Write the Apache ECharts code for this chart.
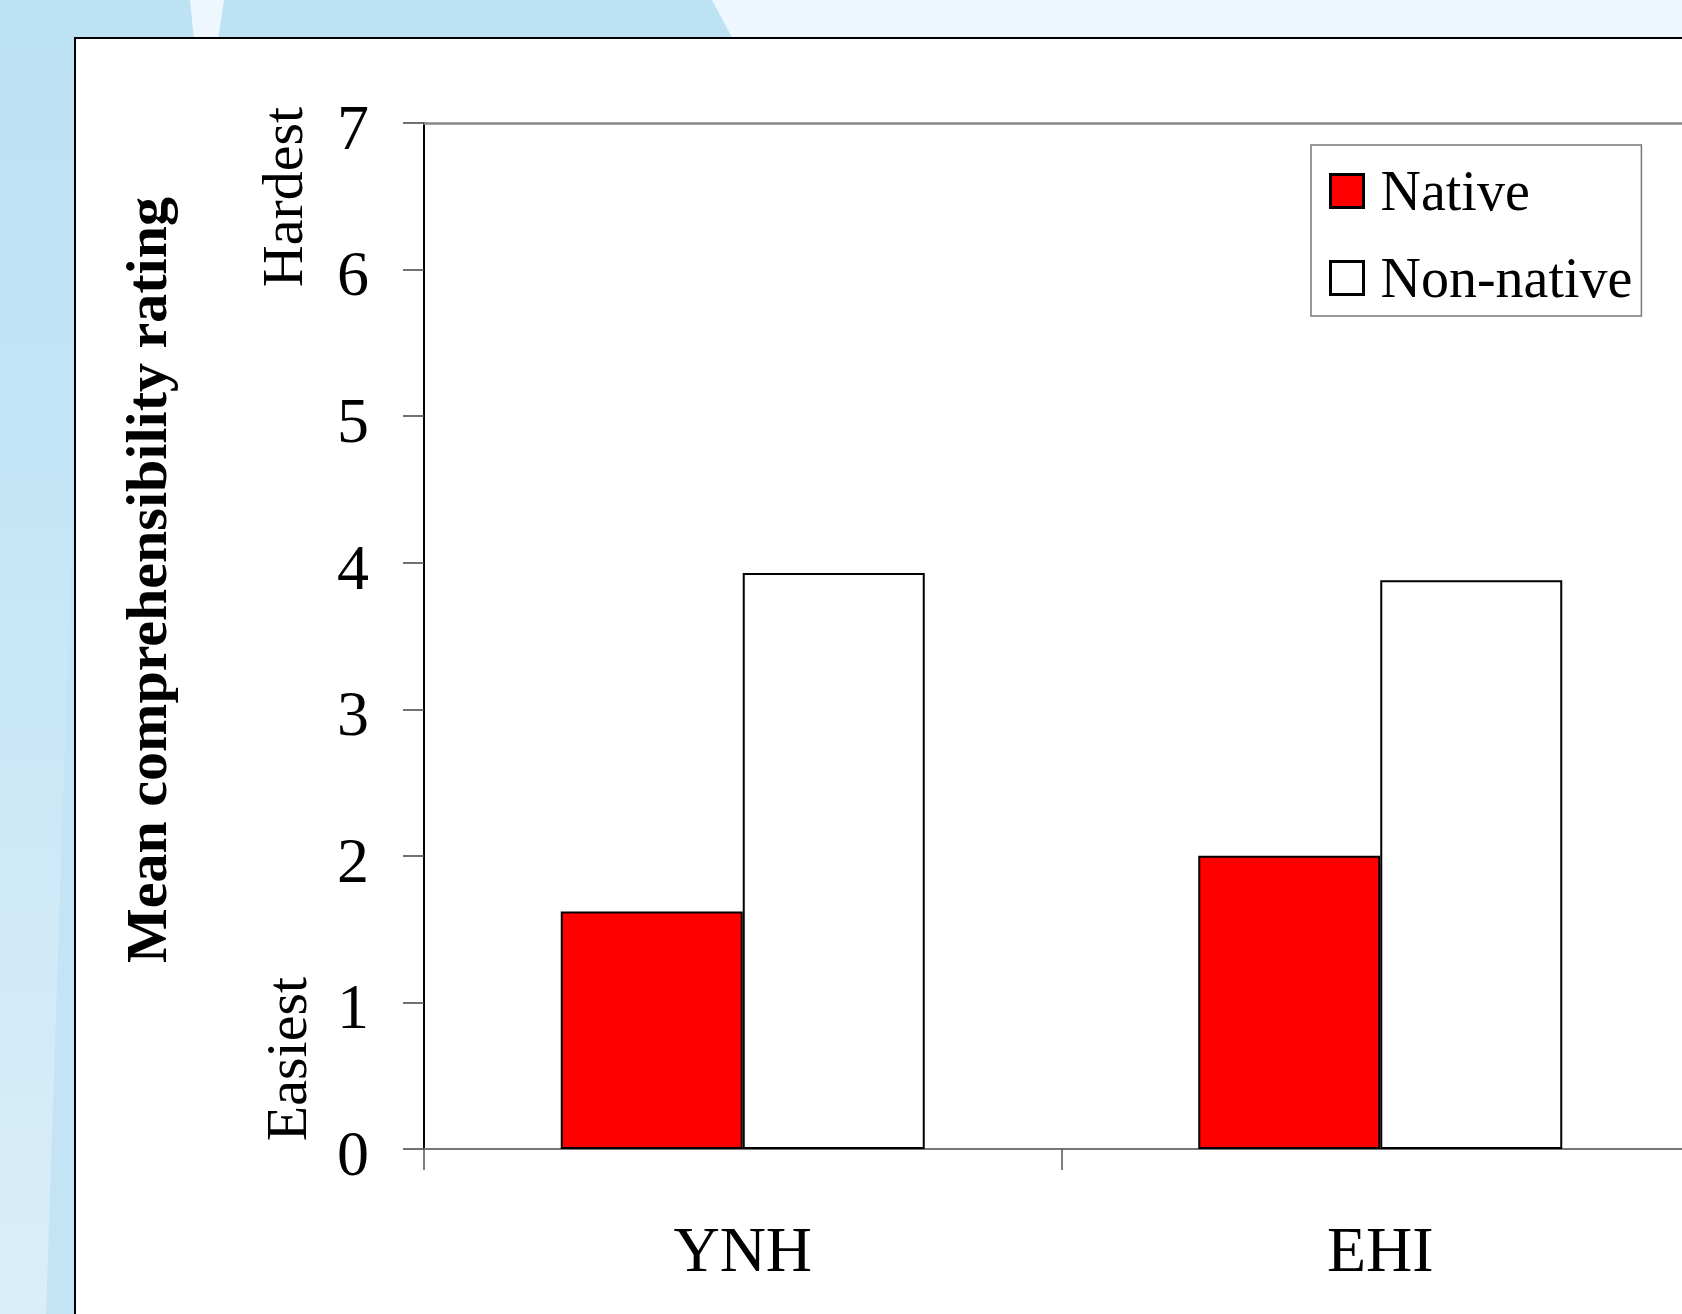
<!DOCTYPE html>
<html>
<head>
<meta charset="utf-8">
<title>Mean comprehensibility rating</title>
<script src="https://cdn.jsdelivr.net/npm/echarts@6/dist/echarts.min.js"></script>
<style>
  html, body { margin: 0; padding: 0; background: #bee3f5; overflow: hidden; }
  /* the plot runs past the right edge of the slide, so the canvas is a bit wider than the window */
  #main { width: 1720px; height: 1314px; }
</style>
</head>
<body>
<div id="main"></div>
<script>
// data
var categories = ['YNH', 'EHI'];
var seriesNames = ['Native', 'Non-native'];
var nativeValues = [1.62, 2.0];
var nonNativeValues = [3.93, 3.88];
var yTicks = [0, 1, 2, 3, 4, 5, 6, 7];

var serif = "'Liberation Serif', 'Times New Roman', serif";

var myChart = echarts.init(document.getElementById('main'));

var option = {
  animation: false,
  backgroundColor: {
    type: 'linear', x: 0, y: 0, x2: 0, y2: 1,
    colorStops: [
      {offset: 0, color: '#bde2f4'},
      {offset: 0.3, color: '#c2e4f6'},
      {offset: 1, color: '#daeef9'}
    ]
  },
  graphic: [
    // backdrop shapes of the slide
    {type: 'polygon', z: -100, shape: {points: [[190, 0], [224, 0], [212, 80], [198, 80]]}, style: {fill: '#eef7fd'}},
    {type: 'polygon', z: -100, shape: {points: [[712, 0], [1720, 0], [1720, 60], [744, 60]]}, style: {fill: '#eef7fd'}},
    {type: 'rect', z: -101, shape: {x: 0, y: 0, width: 1720, height: 40}, style: {fill: '#bde2f4'}},
    {type: 'polygon', z: -100, shape: {points: [[75, 440], [75, 1314], [46, 1314]]}, style: {fill: '#c4e4f6'}},
    {type: 'rect', z: -99, shape: {x: 75, y: 38, width: 1700, height: 1400},
      style: {fill: '#ffffff', stroke: '#000000', lineWidth: 2}},
    // axis titles
    {type: 'text', z: 10, x: 151, y: 580, rotation: Math.PI / 2,
      style: {text: 'Mean comprehensibility rating', font: 'bold 58px ' + serif, fill: '#000',
        textAlign: 'center', textVerticalAlign: 'middle'}},
    {type: 'text', z: 10, x: 287, y: 197, rotation: Math.PI / 2,
      style: {text: 'Hardest', font: '58px ' + serif, fill: '#000',
        textAlign: 'center', textVerticalAlign: 'middle'}},
    {type: 'text', z: 10, x: 291, y: 1059, rotation: Math.PI / 2,
      style: {text: 'Easiest', font: '58px ' + serif, fill: '#000',
        textAlign: 'center', textVerticalAlign: 'middle'}}
  ],
  legend: {
    orient: 'vertical',
    left: 1311,
    top: 145,
    data: seriesNames,
    icon: 'rect',
    itemWidth: 33,
    itemHeight: 33,
    itemGap: 23,
    padding: [14, 9, 6, 18],
    backgroundColor: '#ffffff',
    borderColor: '#777777',
    borderWidth: 1.5,
    itemStyle: {borderColor: '#000000', borderWidth: 3},
    formatter: '{n|{name}}',
    textStyle: {
      fontFamily: serif, fontSize: 56, color: '#000',
      rich: {n: {fontFamily: serif, fontSize: 56, color: '#000', lineHeight: 60, padding: [8, 0, 0, 12]}}
    }
  },
  grid: {left: 424, top: 123, width: 1275, height: 1026},
  xAxis: [{
    type: 'category',
    data: categories,
    position: 'bottom',
    axisLine: {lineStyle: {color: '#777777', width: 2}},
    axisTick: {show: true, length: 21, lineStyle: {color: '#555555', width: 1.5}},
    axisLabel: {fontFamily: serif, fontSize: 64, color: '#000', margin: 73}
  }, {
    type: 'category',
    data: categories,
    position: 'top',
    axisLine: {lineStyle: {color: '#888888', width: 2.5}},
    axisTick: {show: false},
    axisLabel: {show: false}
  }],
  yAxis: {
    type: 'value',
    min: yTicks[0],
    max: yTicks[yTicks.length - 1],
    interval: 1,
    axisLine: {show: true, lineStyle: {color: '#000000', width: 2}},
    axisTick: {show: true, length: 21, lineStyle: {color: '#444444', width: 1.5}},
    splitLine: {show: false},
    axisLabel: {
      margin: 55,
      formatter: '{v|{value}}',
      rich: {v: {fontFamily: serif, fontSize: 64, color: '#000', lineHeight: 64, padding: [18, 0, 0, 0]}}
    }
  },
  series: [{
    name: seriesNames[0],
    type: 'bar',
    data: nativeValues,
    barWidth: 182,
    barGap: '0%',
    itemStyle: {color: '#ff0000', borderColor: '#000000', borderWidth: 2}
  }, {
    name: seriesNames[1],
    type: 'bar',
    data: nonNativeValues,
    barWidth: 182,
    barGap: '0%',
    itemStyle: {color: '#ffffff', borderColor: '#000000', borderWidth: 2}
  }]
};

myChart.setOption(option);
</script>
</body>
</html>
